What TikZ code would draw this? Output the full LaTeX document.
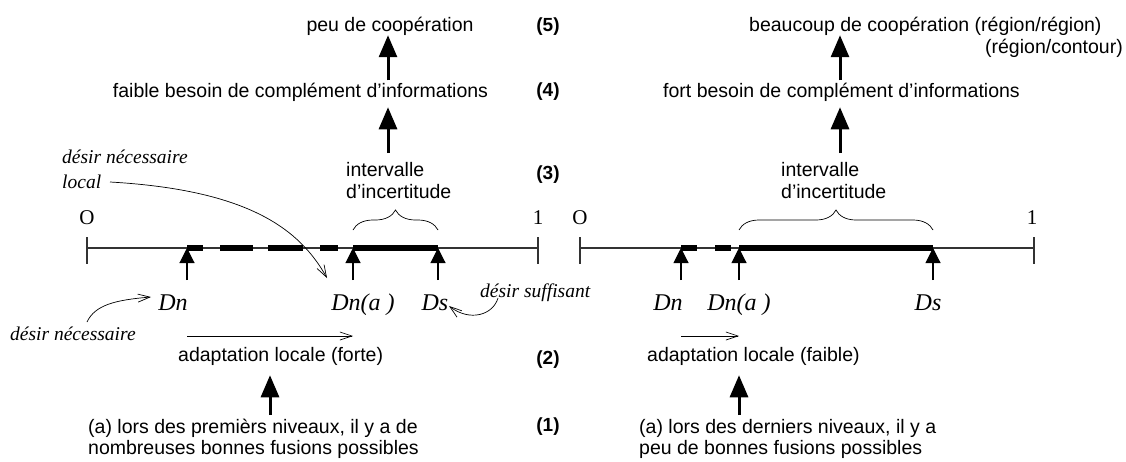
\documentclass[tikz,border=0pt]{standalone}
\usepackage{fontspec}
\setmainfont{Liberation Serif}
\setsansfont{Liberation Sans}
\usetikzlibrary{arrows.meta,decorations.pathreplacing}

\tikzset{
  txt/.style={font=\sffamily\fontsize{19.5}{22}\selectfont,inner sep=0pt},
  tight/.style={font=\sffamily\fontsize{19.5}{21}\selectfont},
  note/.style={font=\itshape\fontsize{19.5}{25}\selectfont,inner sep=0pt},
  varlbl/.style={font=\itshape\fontsize{24}{24}\selectfont,inner sep=0pt},
  endlbl/.style={font=\fontsize{21}{21}\selectfont,inner sep=0pt},
  lvl/.style={font=\sffamily\bfseries\fontsize{19}{19}\selectfont,inner sep=0pt},
  axisline/.style={black!80,line width=1.1pt},
  seg/.style={line width=6pt},
  bigarrow/.style={line width=3pt,-{Triangle[length=22pt,width=18pt]}},
  marker/.style={line width=1.1pt,-{Triangle[length=15pt,width=15pt]}},
  thinarrow/.style={line width=0.7pt,-{Straight Barb[length=12pt,width=8pt]}},
  bracebox/.style={decorate,decoration={brace,amplitude=20pt},line width=0.7pt},
}

\begin{document}
\begin{tikzpicture}[x=1pt,y=-1pt]
  \useasboundingbox (0,0) rectangle (1126,461);

  % level numbers
  \foreach \n/\y in {5/31,4/96,3/179,2/364,1/431}
    \node[lvl,anchor=base] (lev\n) at (548,\y) {(\n)};

  % ---- left: first levels
  \coordinate (oL) at (87,248);
  \coordinate (eL) at (538,248);
  \coordinate (DnL) at (187,248);
  \coordinate (DnaL) at (353,248);
  \coordinate (DsL) at (438,248);
  \coordinate (colL) at (388,0);
  \coordinate (adL) at (270,0);

  \draw[axisline] (oL) -- (eL);
  \draw[axisline] (oL) ++(0,-11) -- ++(0,27);
  \draw[axisline] (eL) ++(0,-11) -- ++(0,27);
  \draw[seg,dash pattern=on 16pt off 17pt on 33pt off 15pt on 35pt off 17pt on 18pt off 15pt] (DnL) -- (DnaL);
  \draw[seg] (DnaL) -- (DsL);
  \foreach \p in {DnL,DnaL,DsL}
    \draw[marker] (\p) ++(0,32) -- (\p);
  \draw[bracebox] ([yshift=18pt]DnaL) -- ([yshift=18pt]DsL);

  \node[endlbl,anchor=base] (zeroL) at (87,224) {O};
  \node[endlbl,anchor=base] (oneL) at (538,224) {1};
  \node[varlbl,anchor=base] (tDnL) at (173,310) {Dn};
  \node[varlbl,anchor=base] (tDnaL) at (363,310) {Dn(a\ )};
  \node[varlbl,anchor=base] (tDsL) at (435,310) {Ds};

  \node[txt,anchor=base] (peuL) at (390,31) {peu de coopération};
  \node[txt,anchor=base] (faibleL) at (300.5,97) {faible besoin de complément d'informations};
  \node[txt,align=left,anchor=north west] (intL) at (346,162) {intervalle\\d'incertitude};
  \draw[bigarrow,shorten <=2pt] (faibleL.north -| colL) -- (peuL.south -| colL);
  \draw[bigarrow,shorten <=9pt,shorten >=6pt] (intL.north -| colL) -- (faibleL.south -| colL);

  % annotations
  \node[note,align=left,anchor=north west] (locN) at (62,150) {désir nécessaire\\local};
  \coordinate (locS) at (110,182);
  \coordinate (locE) at (327,278);
  \draw[thinarrow] (locS) .. controls (250,190) and (300,230) .. (locE);

  \node[note,anchor=base west] (suffN) at (480,297) {désir suffisant};
  \coordinate (suffS) at (498,298);
  \coordinate (suffE) at (449,306);
  \draw[thinarrow] (suffS) .. controls (493,315) and (470,322) .. (suffE);

  \node[note,anchor=base west] (necN) at (10,340) {désir nécessaire};
  \coordinate (necS) at (87,322);
  \coordinate (necE) at (151,297);
  \draw[thinarrow] (necS) .. controls (95,305) and (115,300) .. (necE);

  \coordinate (hL) at (0,336);
  \draw[thinarrow] (DnL |- hL) -- (DnaL |- hL);

  \node[txt,anchor=base west] (adaptL) at (178,361) {adaptation locale (forte)};
  \node[txt,tight,align=left,anchor=north west] (casL) at (88,419)
    {(a) lors des premièrs niveaux, il y a de\\nombreuses bonnes fusions possibles};
  \draw[bigarrow,shorten <=4pt,shorten >=10pt] (casL.north -| adL) -- (adaptL.south -| adL);

  % ---- right: last levels
  \coordinate (oR) at (580,248);
  \coordinate (eR) at (1034,248);
  \coordinate (DnR) at (681,248);
  \coordinate (DnaR) at (739,248);
  \coordinate (DsR) at (933,248);
  \coordinate (colR) at (840,0);
  \coordinate (adR) at (739,0);

  \draw[axisline] (oR) -- (eR);
  \draw[axisline] (oR) ++(0,-11) -- ++(0,27);
  \draw[axisline] (eR) ++(0,-11) -- ++(0,27);
  \draw[seg,dash pattern=on 16pt off 18pt] (DnR) -- (DnaR);
  \draw[seg] (DnaR) -- (DsR);
  \foreach \p in {DnR,DnaR,DsR}
    \draw[marker] (\p) ++(0,32) -- (\p);
  \draw[bracebox] ([yshift=18pt]DnaR) -- ([yshift=18pt]DsR);

  \node[endlbl,anchor=base] (zeroR) at (580,224) {O};
  \node[endlbl,anchor=base] (oneR) at (1032,224) {1};
  \node[varlbl,anchor=base] (tDnR) at (668,310) {Dn};
  \node[varlbl,anchor=base] (tDnaR) at (739,310) {Dn(a\ )};
  \node[varlbl,anchor=base] (tDsR) at (928,310) {Ds};

  \node[txt,anchor=base west] (beauR) at (749,31) {beaucoup de coopération (région/région)};
  \node[txt,anchor=base east] (contR) at (1123,53) {(région/contour)};
  \node[txt,anchor=base west] (fortR) at (663,97) {fort besoin de complément d'informations};
  \node[txt,align=left,anchor=north west] (intR) at (781,162) {intervalle\\d'incertitude};
  \draw[bigarrow,shorten <=2pt] (fortR.north -| colR) -- (beauR.south -| colR);
  \draw[bigarrow,shorten <=9pt,shorten >=6pt] (intR.north -| colR) -- (fortR.south -| colR);

  \coordinate (hR) at (0,336);
  \draw[thinarrow] (DnR |- hR) -- (DnaR |- hR);

  \node[txt,anchor=base west] (adaptR) at (647,361) {adaptation locale (faible)};
  \node[txt,tight,align=left,anchor=north west] (casR) at (639,419)
    {(a) lors des derniers niveaux, il y a\\peu de bonnes fusions possibles};
  \draw[bigarrow,shorten <=4pt,shorten >=10pt] (casR.north -| adR) -- (adaptR.south -| adR);
\end{tikzpicture}
\end{document}
